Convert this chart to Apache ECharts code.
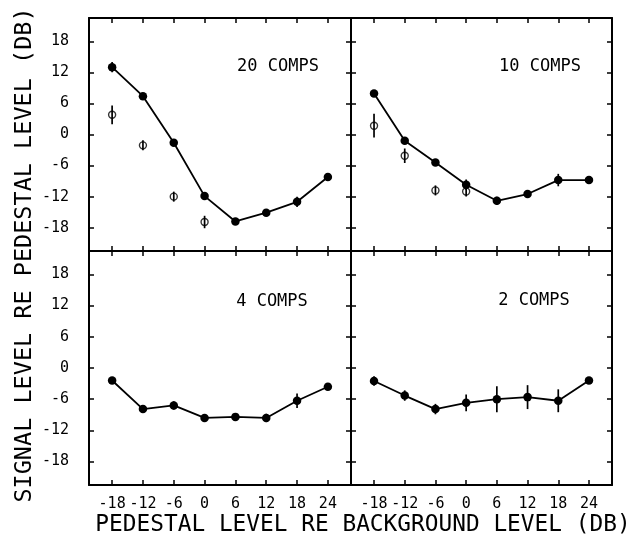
<!DOCTYPE html>
<html>
<head>
<meta charset="utf-8">
<script src="https://cdn.jsdelivr.net/npm/echarts@6/dist/echarts.min.js"></script>
<style>html,body{margin:0;padding:0;background:#fff;}#c{width:638px;height:541px;}</style>
</head>
<body>
<div id="c"></div>
<script>
// ---- data ----
const xValues = [-18, -12, -6, 0, 6, 12, 18, 24];
const xOpenValues = [-18, -12, -6, 0];
const yTickValues = [-18, -12, -6, 0, 6, 12, 18];
const xTickValues = [-18, -12, -6, 0, 6, 12, 18, 24];

const panelLabels = ['20 COMPS', '10 COMPS', '4 COMPS', '2 COMPS'];

const comps20Filled = [13.0, 7.4, -1.6, -11.9, -16.8, -15.1, -13.0, -8.2];
const comps20FilledErr = [1.0, 0, 0.6, 0.5, 0, 0, 1.0, 0];
const comps20Open = [3.8, -2.1, -12.0, -16.9];
const comps20OpenErr = [1.8, 0.9, 0.3, 1.2];

const comps10Filled = [7.9, -1.2, -5.4, -9.7, -12.8, -11.5, -8.8, -8.8];
const comps10FilledErr = [0.6, 0.5, 0.3, 1.0, 0.8, 0.4, 1.2, 0];
const comps10Open = [1.7, -4.1, -10.8, -11.0];
const comps10OpenErr = [2.3, 1.4, 0.4, 0.5];

const comps4Filled = [-2.4, -7.9, -7.2, -9.6, -9.4, -9.6, -6.3, -3.6];
const comps4FilledErr = [0.3, 0.5, 0.8, 0.5, 0.5, 0.8, 1.4, 0.3];

const comps2Filled = [-2.5, -5.3, -7.9, -6.7, -6.0, -5.6, -6.3, -2.4];
const comps2FilledErr = [0.9, 1.0, 1.0, 1.6, 2.5, 2.3, 2.2, 0.3];

const yTitle = 'SIGNAL LEVEL RE PEDESTAL LEVEL (DB)';
const xTitle = 'PEDESTAL LEVEL RE BACKGROUND LEVEL (DB)';

// ---- build ----
const FONT = '"DejaVu Sans Mono", "Liberation Mono", monospace';
const INK = '#000';
const panels = [
  { filled: comps20Filled, filledErr: comps20FilledErr, open: comps20Open, openErr: comps20OpenErr },
  { filled: comps10Filled, filledErr: comps10FilledErr, open: comps10Open, openErr: comps10OpenErr },
  { filled: comps4Filled, filledErr: comps4FilledErr },
  { filled: comps2Filled, filledErr: comps2FilledErr }
];
const grids = [
  { left: 89, top: 18, width: 262, height: 233 },
  { left: 351, top: 18, width: 261, height: 233 },
  { left: 89, top: 251, width: 262, height: 234 },
  { left: 351, top: 251, width: 261, height: 234 }
];
const XMIN = -22.5, XMAX = 28.5, YMIN = -22.5, YMAX = 22.5;

const xAxis = [], yAxis = [], series = [];
const lineStyle = { color: '#000', width: 2 };

grids.forEach((g, i) => {
  const showX = i >= 2, showY = i % 2 === 0;
  xAxis.push({
    type: 'value', gridIndex: i, position: 'bottom', min: XMIN, max: XMAX,
    axisLine: { show: true, onZero: false, lineStyle },
    axisTick: { show: true, inside: true, length: 5, customValues: xTickValues, lineStyle: { color: '#000', width: 1.5 } },
    axisLabel: { show: showX, customValues: xTickValues, margin: 12, fontFamily: FONT, fontSize: 15, color: INK },
    splitLine: { show: false }
  });
  xAxis.push({
    type: 'value', gridIndex: i, position: 'top', min: XMIN, max: XMAX,
    axisLine: { show: true, onZero: false, lineStyle },
    axisTick: { show: true, inside: true, length: 5, customValues: xTickValues, lineStyle: { color: '#000', width: 1.5 } },
    axisLabel: { show: false },
    splitLine: { show: false }
  });
  yAxis.push({
    type: 'value', gridIndex: i, position: 'left', min: YMIN, max: YMAX,
    axisLine: { show: true, onZero: false, lineStyle },
    axisTick: { show: true, inside: true, length: 5, customValues: yTickValues, lineStyle: { color: '#000', width: 1.5 } },
    axisLabel: { show: showY, customValues: yTickValues, margin: 20, fontFamily: FONT, fontSize: 15, color: INK },
    splitLine: { show: false }
  });
  yAxis.push({
    type: 'value', gridIndex: i, position: 'right', min: YMIN, max: YMAX,
    axisLine: { show: true, onZero: false, lineStyle },
    axisTick: { show: true, inside: true, length: 5, customValues: yTickValues, lineStyle: { color: '#000', width: 1.5 } },
    axisLabel: { show: false },
    splitLine: { show: false }
  });

  const xi = i * 2, yi = i * 2;
  const p = panels[i];
  const errRender = (minHalf) => function (params, api) {
    const x = api.value(0), y = api.value(1), e = api.value(2);
    const c = api.coord([x, y]);
    const hi = api.coord([x, y + e]);
    const lo = api.coord([x, y - e]);
    let half = Math.max(Math.abs(lo[1] - hi[1]) / 2, minHalf);
    if (half <= 0) return null;
    return {
      type: 'line',
      shape: { x1: c[0], y1: c[1] - half, x2: c[0], y2: c[1] + half },
      style: { stroke: '#000', lineWidth: 1.7 }
    };
  };
  series.push({
    type: 'custom', xAxisIndex: xi, yAxisIndex: yi, z: 3,
    renderItem: errRender(0),
    encode: { x: 0, y: 1 },
    data: xValues.map((x, k) => [x, p.filled[k], p.filledErr[k]])
  });
  series.push({
    type: 'line', xAxisIndex: xi, yAxisIndex: yi, z: 4,
    data: xValues.map((x, k) => [x, p.filled[k]]),
    symbol: 'circle', symbolSize: 8.5,
    lineStyle: { color: '#000', width: 1.8 },
    itemStyle: { color: '#000' }
  });
  if (p.open) {
    series.push({
      type: 'scatter', xAxisIndex: xi, yAxisIndex: yi, z: 4,
      data: xOpenValues.map((x, k) => [x, p.open[k]]),
      symbol: 'circle', symbolSize: 7,
      itemStyle: { color: 'rgba(0,0,0,0)', borderColor: '#000', borderWidth: 1.4 }
    });
    series.push({
      type: 'custom', xAxisIndex: xi, yAxisIndex: yi, z: 5,
      renderItem: errRender(5),
      encode: { x: 0, y: 1 },
      data: xOpenValues.map((x, k) => [x, p.open[k], p.openErr[k]])
    });
  }
});

const labelPos = [[278, 67], [540, 67], [272, 302], [534, 301]];
const graphic = panelLabels.map((t, i) => ({
  type: 'text', x: labelPos[i][0], y: labelPos[i][1],
  style: { text: t, font: '17px ' + FONT, fill: INK, align: 'center', verticalAlign: 'middle' }
}));
graphic.push({
  type: 'text', x: 25, y: 255, rotation: Math.PI / 2,
  style: { text: yTitle, font: '23.5px ' + FONT, fill: INK, align: 'center', verticalAlign: 'middle' }
});
graphic.push({
  type: 'text', x: 363, y: 525,
  style: { text: xTitle, font: '22.8px ' + FONT, fill: INK, align: 'center', verticalAlign: 'middle' }
});

const chart = echarts.init(document.getElementById('c'), null, { renderer: 'canvas' });
chart.setOption({
  animation: false,
  backgroundColor: '#fff',
  grid: grids,
  xAxis, yAxis, series, graphic
});
</script>
</body>
</html>
